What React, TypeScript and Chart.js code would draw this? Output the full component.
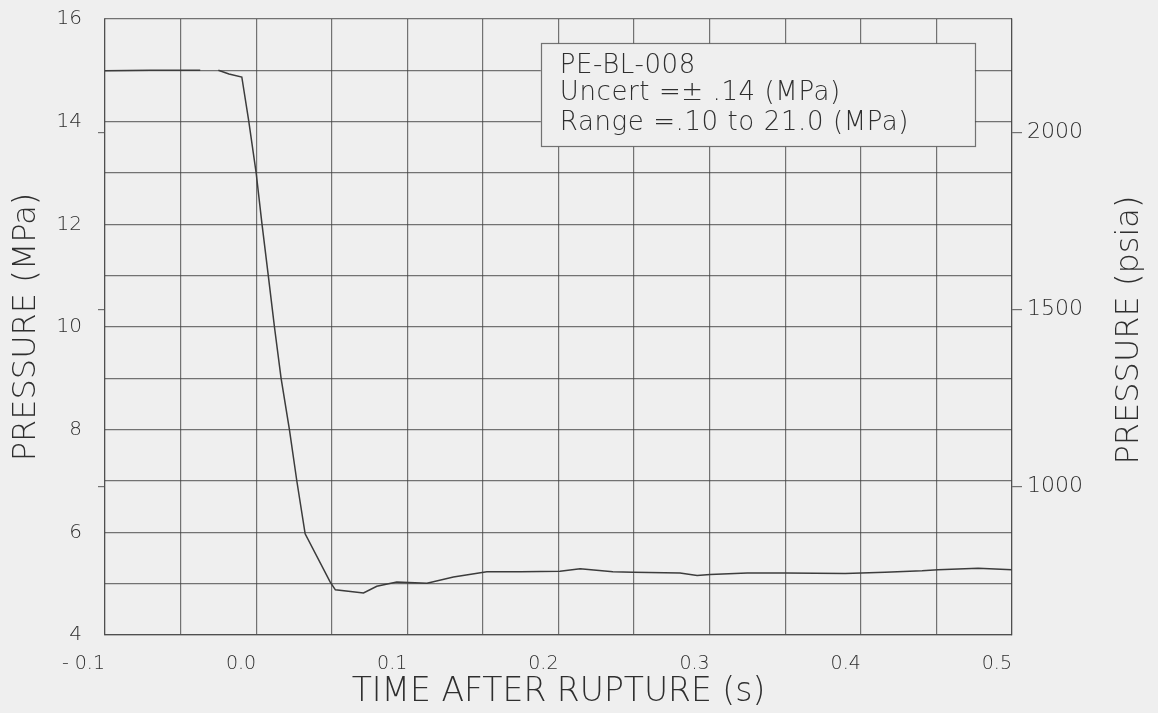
import React, { useEffect, useRef } from 'react';
import { Chart, registerables } from 'chart.js';

Chart.register(...registerables);

// ---- data (time after rupture in s, pressure in MPa) ----
const timeS = [
  -0.1, -0.07, -0.037, -0.031, -0.025, -0.018, -0.0095, -0.005, 0.0, 0.0038, 0.0081, 0.0121,
  0.0165, 0.022, 0.0269, 0.0324, 0.049, 0.0524, 0.071, 0.0798, 0.093, 0.113, 0.1305, 0.1526,
  0.175, 0.201, 0.2143, 0.236, 0.2493, 0.2804, 0.2917, 0.3003, 0.3249, 0.35, 0.3897, 0.416,
  0.4405, 0.4511, 0.4776, 0.5,
];
const pressureMPa: (number | null)[] = [
  14.99, 15.0, 15.0, null, 15.0, 14.93, 14.87, 14.03, 13.0, 12.02, 10.98, 10.0,
  9.0, 8.0, 7.0, 5.97, 5.03, 4.88, 4.82, 4.95, 5.03, 5.01, 5.13, 5.23,
  5.23, 5.24, 5.29, 5.23, 5.22, 5.21, 5.16, 5.18, 5.21, 5.21, 5.2, 5.22,
  5.25, 5.27, 5.3, 5.27,
];

// ---- ticks ----
const xGridTicks = [-0.1, -0.05, 0, 0.05, 0.1, 0.15, 0.2, 0.25, 0.3, 0.35, 0.4, 0.45, 0.5];
const xTickLabels = ['- 0.1', '', '0.0', '', '0.1', '', '0.2', '', '0.3', '', '0.4', '', '0.5'];
const yGridTicks = [4, 5, 6, 7, 8, 9, 10, 11, 12, 13, 14, 15, 16];
const yTickLabels = ['4', '', '6', '', '8', '', '10', '', '12', '', '14', '', '16'];
const psiaTicks = [1000, 1500, 2000];
const psiaTickLabels = ['1000', '1500', '2000'];
const MPA_TO_PSIA = 145.038;

// ---- text ----
const xTitle = 'TIME AFTER RUPTURE (s)';
const yTitle = 'PRESSURE (MPa)';
const y2Title = 'PRESSURE (psia)';
const infoLines = ['PE-BL-008', 'Uncert =\u00b1 .14 (MPa)', 'Range =.10 to 21.0 (MPa)'];
// info box corners in data units (time s, MPa)
const infoBoxTime = [0.1883, 0.4755];
const infoBoxMPa = [15.526, 13.51];

const FONT = "'DejaVu Sans', 'Liberation Sans', sans-serif";
const WEIGHT = 200;
const INK = '#2f2f2f';
const GRID = 'rgba(65,65,65,0.72)';
const BG = '#efefef';

const noScalePadding = (s: any) => {
  s.paddingTop = 0;
  s.paddingBottom = 0;
};

export default function App() {
  const ref = useRef<HTMLCanvasElement>(null);

  useEffect(() => {
    const canvas = ref.current!;

    const bgPlugin = {
      id: 'bgFill',
      beforeDraw(chart: any) {
        const { ctx, width, height } = chart;
        ctx.save();
        ctx.fillStyle = BG;
        ctx.fillRect(0, 0, width, height);
        ctx.restore();
      },
    };

    const infoPlugin = {
      id: 'infoBox',
      beforeDatasetsDraw(chart: any) {
        const { ctx } = chart;
        const xs = chart.scales.x;
        const ys = chart.scales.y;
        const l = xs.getPixelForValue(infoBoxTime[0]);
        const r = xs.getPixelForValue(infoBoxTime[1]);
        const t = ys.getPixelForValue(infoBoxMPa[0]);
        const b = ys.getPixelForValue(infoBoxMPa[1]);
        ctx.save();
        ctx.fillStyle = BG;
        ctx.fillRect(l, t, r - l, b - t);
        ctx.strokeStyle = GRID;
        ctx.lineWidth = 1.2;
        ctx.strokeRect(Math.round(l) + 0.5, Math.round(t) + 0.5, Math.round(r - l), Math.round(b - t));
        ctx.fillStyle = INK;
        ctx.font = `${WEIGHT} 26px ${FONT}`;
        (ctx as any).letterSpacing = '0.6px';
        ctx.textAlign = 'left';
        ctx.textBaseline = 'middle';
        const offs = [23, 50, 80];
        infoLines.forEach((s, i) => ctx.fillText(s, l + 19, t + offs[i]));
        ctx.restore();
      },
    };

    const rightTitlePlugin = {
      id: 'rightTitle',
      afterDraw(chart: any) {
        const { ctx, chartArea } = chart;
        ctx.save();
        ctx.translate(chart.width - 28, (chartArea.top + chartArea.bottom) / 2 + 3);
        ctx.rotate(-Math.PI / 2);
        ctx.fillStyle = INK;
        ctx.font = `${WEIGHT} 32px ${FONT}`;
        ctx.textAlign = 'center';
        ctx.textBaseline = 'middle';
        ctx.fillText(y2Title, 0, 0);
        ctx.restore();
      },
    };

    const chart = new Chart(canvas, {
      type: 'line',
      data: {
        datasets: [
          {
            label: 'PE-BL-008',
            data: timeS.map((t, i) => ({ x: t, y: pressureMPa[i] })) as any,
            borderColor: '#3c3c3c',
            borderWidth: 1.5,
            pointRadius: 0,
            tension: 0,
            spanGaps: false,
            fill: false,
          },
        ],
      },
      options: {
        responsive: false,
        animation: false,
        devicePixelRatio: 1,
        layout: { padding: { top: 19, left: 0, right: 0, bottom: 0 } },
        plugins: { legend: { display: false }, tooltip: { enabled: false }, title: { display: false } },
        scales: {
          x: {
            type: 'linear',
            position: 'bottom',
            min: -0.1,
            max: 0.5,
            afterBuildTicks: (s: any) => {
              s.ticks = xGridTicks.map((v) => ({ value: v }));
            },
            afterFit: (s: any) => {
              s.height = 78;
            },
            grid: { color: GRID, lineWidth: 1.2, drawTicks: false },
            border: { display: true, color: GRID, width: 1.2 },
            ticks: {
              autoSkip: false,
              maxRotation: 0,
              align: 'end',
              padding: 18,
              color: INK,
              font: { family: FONT, size: 19, weight: WEIGHT },
              callback: (_v: any, i: number) => xTickLabels[i],
            },
            title: {
              display: true,
              text: xTitle,
              color: INK,
              font: { family: FONT, size: 33, lineHeight: 1.2, weight: WEIGHT },
              padding: { top: 0, bottom: 1 },
            },
          },
          y: {
            type: 'linear',
            position: 'left',
            weight: 1,
            min: 4,
            max: 16,
            afterBuildTicks: (s: any) => {
              s.ticks = yGridTicks.map((v) => ({ value: v }));
            },
            afterFit: (s: any) => {
              s.width = 97;
              noScalePadding(s);
            },
            grid: { color: GRID, lineWidth: 1.2, drawTicks: false },
            border: { display: false },
            ticks: {
              padding: 15,
              color: INK,
              font: { family: FONT, size: 20, weight: WEIGHT },
              callback: (_v: any, i: number) => yTickLabels[i],
            },
            title: {
              display: true,
              text: yTitle,
              color: INK,
              font: { family: FONT, size: 32, lineHeight: 1.2, weight: WEIGHT },
              padding: { top: 7, bottom: 0 },
            },
          },
          yPsiaLeft: {
            type: 'linear',
            position: 'left',
            weight: 0,
            min: 4 * MPA_TO_PSIA,
            max: 16 * MPA_TO_PSIA,
            afterBuildTicks: (s: any) => {
              s.ticks = psiaTicks.map((v) => ({ value: v }));
            },
            afterFit: (s: any) => {
              s.width = 8;
              noScalePadding(s);
            },
            grid: { drawOnChartArea: false, drawTicks: true, tickLength: 7, color: GRID, lineWidth: 1.2 },
            border: { display: true, color: GRID, width: 1.2 },
            ticks: { padding: 0, callback: () => '' },
          },
          yPsia: {
            type: 'linear',
            position: 'right',
            min: 4 * MPA_TO_PSIA,
            max: 16 * MPA_TO_PSIA,
            afterBuildTicks: (s: any) => {
              s.ticks = psiaTicks.map((v) => ({ value: v }));
            },
            afterFit: (s: any) => {
              s.width = 146;
              noScalePadding(s);
            },
            grid: { drawOnChartArea: false, drawTicks: true, tickLength: 10, color: GRID, lineWidth: 1.2 },
            border: { display: true, color: GRID, width: 1.2 },
            ticks: {
              padding: 5,
              color: INK,
              font: { family: FONT, size: 22, weight: WEIGHT },
              callback: (_v: any, i: number) => psiaTickLabels[i],
            },
          },
        },
      } as any,
      plugins: [bgPlugin, infoPlugin, rightTitlePlugin],
    });

    return () => chart.destroy();
  }, []);

  return (
    <div style={{ position: 'fixed', left: 0, top: 0, width: 1158, height: 713, background: BG }}>
      <canvas ref={ref} width={1158} height={713} style={{ display: 'block' }} />
    </div>
  );
}
